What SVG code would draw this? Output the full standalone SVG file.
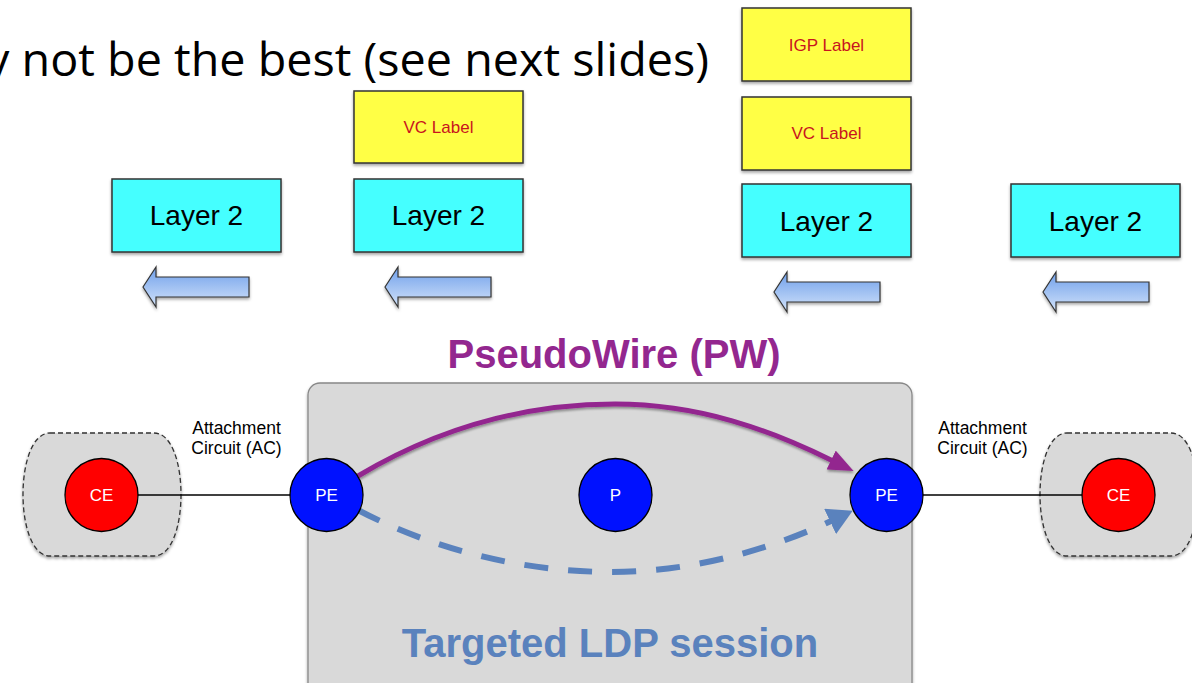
<svg xmlns="http://www.w3.org/2000/svg" width="1192" height="683" viewBox="0 0 1192 683">
  <defs>
    <filter id="shadow" x="-10%" y="-10%" width="130%" height="140%">
      <feDropShadow dx="0" dy="2" stdDeviation="1.5" flood-color="#000" flood-opacity="0.35"/>
    </filter>
    <filter id="lineShadow" x="-10%" y="-20%" width="120%" height="150%">
      <feDropShadow dx="0.5" dy="2" stdDeviation="1" flood-color="#000" flood-opacity="0.35"/>
    </filter>
    <linearGradient id="arrowFill" x1="0" y1="0" x2="0" y2="1">
      <stop offset="0" stop-color="#6f9fea"/>
      <stop offset="1" stop-color="#d3e3fa"/>
    </linearGradient>
    <marker id="headPW" markerUnits="userSpaceOnUse" viewBox="0 0 25 21" markerWidth="25" markerHeight="21" refX="1" refY="10.5" orient="auto">
      <path d="M0,0 L25,10.5 L0,21 Z" fill="#93278f"/>
    </marker>
    <marker id="headLDP" markerUnits="userSpaceOnUse" viewBox="0 0 25 28" markerWidth="25" markerHeight="28" refX="1" refY="14" orient="auto">
      <path d="M0,0 L25,14 L0,28 Z" fill="#5a82bd"/>
    </marker>
    <path id="blockArrow" d="M0,0 L13,-20 L13,-10 L106,-10 L106,10 L13,10 L13,20 Z"/>
    <!-- customer site outline: flat top/bottom, rounded bulging sides -->
    <path id="siteShape" d="M50,433 L154,433 C190,433 190,556 154,556 L50,556 C14,556 14,433 50,433 Z"/>
  </defs>
  <style>
    .l2 { fill: #44ffff; stroke: #333; stroke-width: 1.5; }
    .lbl { fill: #ffff44; stroke: #333; stroke-width: 1.5; }
    .l2txt { font-family: "Liberation Sans", Arial, sans-serif; font-size: 28px; fill: #000; text-anchor: middle; }
    .lbltxt { font-family: "Liberation Sans", Arial, sans-serif; font-size: 17px; fill: #c8141e; text-anchor: middle; }
    .flow { fill: url(#arrowFill); stroke: #333; stroke-width: 1.2; }
    .site { fill: #d9d9d9; stroke: #333; stroke-width: 1.3; stroke-dasharray: 5 3; }
    .ce { fill: #ff0000; stroke: #000; stroke-width: 1.3; }
    .pe { fill: #0011ff; stroke: #000; stroke-width: 1.3; }
    .ntxt { font-family: "Liberation Sans", Arial, sans-serif; font-size: 17px; fill: #fff; text-anchor: middle; }
    .actxt { font-family: "Liberation Sans", Arial, sans-serif; font-size: 17.5px; fill: #000; text-anchor: middle; }
    .ac { stroke: #000; stroke-width: 1.6; fill: none; }
  </style>

  <rect width="1192" height="683" fill="#fff"/>

  <!-- slide title line -->
  <text x="-14" y="76" font-family="'Open Sans', 'Noto Sans', sans-serif" font-size="46" fill="#000" textLength="723" lengthAdjust="spacingAndGlyphs">y not be the best (see next slides)</text>

  <!-- frame stacks -->
  <g id="frame-ce1" filter="url(#shadow)">
    <rect class="l2" x="112" y="179" width="169" height="73"/>
  </g>
  <text class="l2txt" x="196.5" y="225">Layer 2</text>

  <g id="frame-pe1" filter="url(#shadow)">
    <rect class="lbl" x="354" y="91" width="169" height="72"/>
    <rect class="l2" x="354" y="179" width="169" height="73"/>
  </g>
  <text class="lbltxt" x="438.5" y="133">VC Label</text>
  <text class="l2txt" x="438.5" y="225">Layer 2</text>

  <g id="frame-core" filter="url(#shadow)">
    <rect class="lbl" x="742" y="8" width="169" height="73"/>
    <rect class="lbl" x="742" y="97" width="169" height="73"/>
    <rect class="l2" x="742" y="184" width="169" height="73"/>
  </g>
  <text class="lbltxt" x="826.5" y="51">IGP Label</text>
  <text class="lbltxt" x="826.5" y="139">VC Label</text>
  <text class="l2txt" x="826.5" y="231">Layer 2</text>

  <g id="frame-ce2" filter="url(#shadow)">
    <rect class="l2" x="1011" y="184" width="169" height="73"/>
  </g>
  <text class="l2txt" x="1095.5" y="231">Layer 2</text>

  <!-- direction of frame flow -->
  <g id="flow-arrows" filter="url(#shadow)">
    <use href="#blockArrow" class="flow" transform="translate(143,287)"/>
    <use href="#blockArrow" class="flow" transform="translate(385,287)"/>
    <use href="#blockArrow" class="flow" transform="translate(774,292)"/>
    <use href="#blockArrow" class="flow" transform="translate(1043,292)"/>
  </g>

  <!-- PseudoWire title -->
  <text x="614" y="368" font-family="'Liberation Sans', Arial, sans-serif" font-size="40" font-weight="bold" fill="#93278f" text-anchor="middle">PseudoWire (PW)</text>

  <!-- provider network -->
  <g id="provider-network">
    <rect x="308" y="383" width="604" height="320" rx="12" fill="#d9d9d9" stroke="#888" stroke-width="1.3" filter="url(#shadow)"/>
    <text x="610" y="657" font-family="'Liberation Sans', Arial, sans-serif" font-size="40" font-weight="bold" fill="#5a82bd" text-anchor="middle">Targeted LDP session</text>
  </g>

  <!-- customer sites -->
  <g id="site-left" filter="url(#shadow)">
    <use href="#siteShape" class="site"/>
  </g>
  <g id="site-right" filter="url(#shadow)">
    <use href="#siteShape" class="site" transform="translate(1017,0)"/>
  </g>

  <!-- connectors -->
  <g id="connectors">
    <line class="ac" x1="137" y1="495" x2="291" y2="495"/>
    <line class="ac" x1="922" y1="495" x2="1083" y2="495"/>
    <path d="M358,476 C435,430 520,404 615,404 C700,404 770,430 832,460.5" fill="none" stroke="#93278f" stroke-width="5" marker-end="url(#headPW)" filter="url(#lineShadow)"/>
    <path d="M358,510 C430,548 520,572 612,572 C700,572 780,545 831,521" fill="none" stroke="#5a82bd" stroke-width="6" stroke-dasharray="24 20" marker-end="url(#headLDP)"/>
  </g>

  <!-- attachment circuit labels -->
  <text class="actxt" x="236.5" y="434">Attachment</text>
  <text class="actxt" x="236.5" y="454">Circuit (AC)</text>
  <text class="actxt" x="982.5" y="434">Attachment</text>
  <text class="actxt" x="982.5" y="454">Circuit (AC)</text>

  <!-- routers -->
  <g id="ce-left">
    <circle class="ce" cx="101.5" cy="495" r="36.5"/>
    <text class="ntxt" x="101.5" y="501">CE</text>
  </g>
  <g id="pe-left">
    <circle class="pe" cx="326.5" cy="495" r="36.5"/>
    <text class="ntxt" x="326.5" y="501">PE</text>
  </g>
  <g id="p-core">
    <circle class="pe" cx="615.5" cy="495" r="36.5"/>
    <text class="ntxt" x="615.5" y="501">P</text>
  </g>
  <g id="pe-right">
    <circle class="pe" cx="886.5" cy="495" r="36.5"/>
    <text class="ntxt" x="886.5" y="501">PE</text>
  </g>
  <g id="ce-right">
    <circle class="ce" cx="1118.5" cy="495" r="36.5"/>
    <text class="ntxt" x="1118.5" y="501">CE</text>
  </g>
</svg>
